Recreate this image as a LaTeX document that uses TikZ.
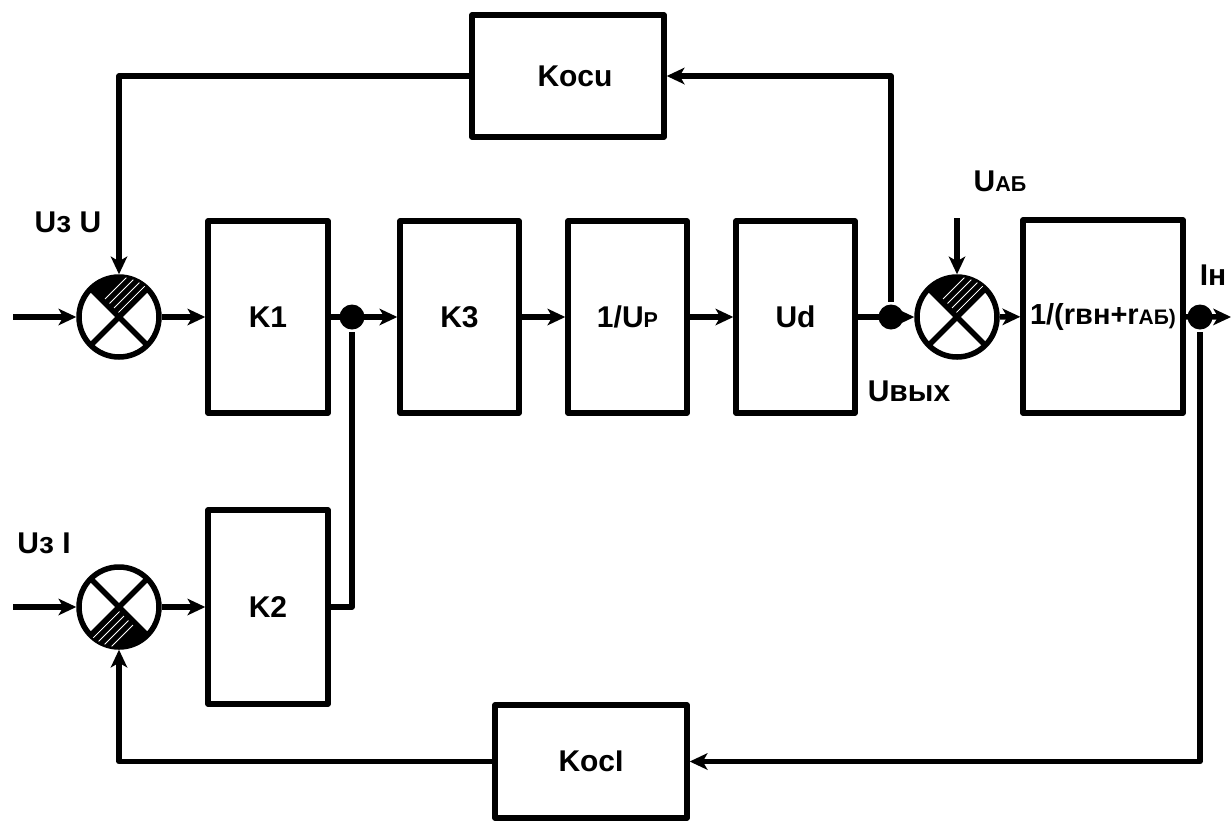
\documentclass[tikz,border=0pt]{standalone}
\usepackage{fontspec}
\setmainfont{Liberation Sans}
\usetikzlibrary{arrows.meta,calc}
\newcommand\smc[1]{{\fontsize{21.5}{21.5}\selectfont #1}}
\newcommand\hatchtop[1]{%
  \begin{scope}
    \clip (#1.center) -- ++(70,-70) -- ++(-140,0) -- cycle;
    \clip (#1.center) circle[radius=40];
    \fill (#1.center) circle[radius=41];
    \foreach \k in {-32,-23,...,40}
      \draw[white,line width=1pt] ($(#1.center)+(\k-60,60)$) -- ($(#1.center)+(\k+60,-60)$);
  \end{scope}}
\newcommand\hatchbot[1]{%
  \begin{scope}
    \clip (#1.center) -- ++(70,70) -- ++(-140,0) -- cycle;
    \clip (#1.center) circle[radius=40];
    \fill (#1.center) circle[radius=41];
    \foreach \k in {-40,-31,...,40}
      \draw[white,line width=1pt] ($(#1.center)+(\k-60,60)$) -- ($(#1.center)+(\k+60,-60)$);
  \end{scope}}
\newcommand\cross[1]{%
  \draw[line width=5.5pt] ($(#1.center)+(-28.3,-28.3)$) -- ($(#1.center)+(28.3,28.3)$);
  \draw[line width=5.5pt] ($(#1.center)+(28.3,-28.3)$) -- ($(#1.center)+(-28.3,28.3)$);}
\begin{document}
\begin{tikzpicture}[x=1pt,y=-1pt,line width=5.5pt,line join=round,
  arr/.style={-{Stealth[length=18pt,width=17pt,inset=5pt,line width=0pt]}},
  box/.style={draw,rectangle,line width=5.5pt,inner sep=0pt,
    font=\fontsize{30}{30}\selectfont\bfseries},
  sumj/.style={draw,circle,line width=5.5pt,minimum size=80pt,inner sep=0pt},
  jdot/.style={circle,fill,minimum size=25pt,inner sep=0pt},
  lbl/.style={inner sep=0pt,font=\fontsize{30}{30}\selectfont\bfseries}]
\useasboundingbox (0,0) rectangle (1231,820);

% blocks
\node[box,minimum width=120pt,minimum height=192pt] (K1) at (268,317) {K1};
\node[box,minimum width=119pt,minimum height=192pt] (K3) at (459.5,317) {K3};
\node[box,minimum width=119pt,minimum height=192pt] (Up) at (627.5,317) {1/U\smc{P}};
\node[box,minimum width=119pt,minimum height=192pt] (Ud) at (795.5,317) {Ud};
\node[box,minimum width=160pt,minimum height=193pt,font=\fontsize{29}{29}\selectfont\bfseries] (R) at (1103,316.5) {1/(rвн+r{\fontsize{21}{21}\selectfont АБ)}};
\node[box,minimum width=120pt,minimum height=194pt] (K2) at (268,607) {K2};
\node[box,minimum width=192pt,minimum height=122pt] (Kocu) at (568,76) {\hspace*{14pt}Kocu};
\node[box,minimum width=192pt,minimum height=113pt] (KocI) at (591,761.5) {KocI};

% summing junctions
\node[sumj] (S1) at (119,317) {};
\node[sumj] (S2) at (119,607) {};
\node[sumj] (S3) at (957,317) {};

% branch points
\node[jdot] (D1) at (352,317) {};
\node[jdot] (D2) at (891,317) {};
\node[jdot] (D3) at (1200,317) {};

% free ends
\coordinate (in1) at (13,317);
\coordinate (in2) at (13,607);
\coordinate (uab) at (957,218);
\coordinate (out) at (1231,317);

% connectors
\draw[arr] (in1) -- (S1);
\draw[arr] (S1) -- (K1);
\draw[arr] (K1) -- (K3);
\draw (K2.east) -| (D1);
\draw[arr] (K3) -- (Up);
\draw[arr] (Up) -- (Ud);
\draw[arr] (Ud) -- (S3);
\draw[arr] (D2) |- (Kocu.east);
\draw[arr] (Kocu.west) -| (S1);
\draw[arr] (uab) -- (S3);
\draw[arr] (S3) -- (R);
\draw[arr] (R) -- (out);
\draw[arr] (D3) |- (KocI.east);
\draw[arr] (KocI.west) -| (S2);
\draw[arr] (in2) -- (S2);
\draw[arr] (S2) -- (K2);

% junction interiors
\hatchtop{S1}\cross{S1}
\hatchbot{S2}\cross{S2}
\hatchtop{S3}\cross{S3}

% labels
\node[lbl] (lUzU) at (68,222) {Uз U};
\node[lbl] (lUzI) at (44,543) {Uз I};
\node[lbl] (lUab) at (1000,181) {U\smc{АБ}};
\node[lbl] (lUout) at (909,391) {Uвых};
\node[lbl] (lIn) at (1213,275) {Iн};
\end{tikzpicture}
\end{document}
